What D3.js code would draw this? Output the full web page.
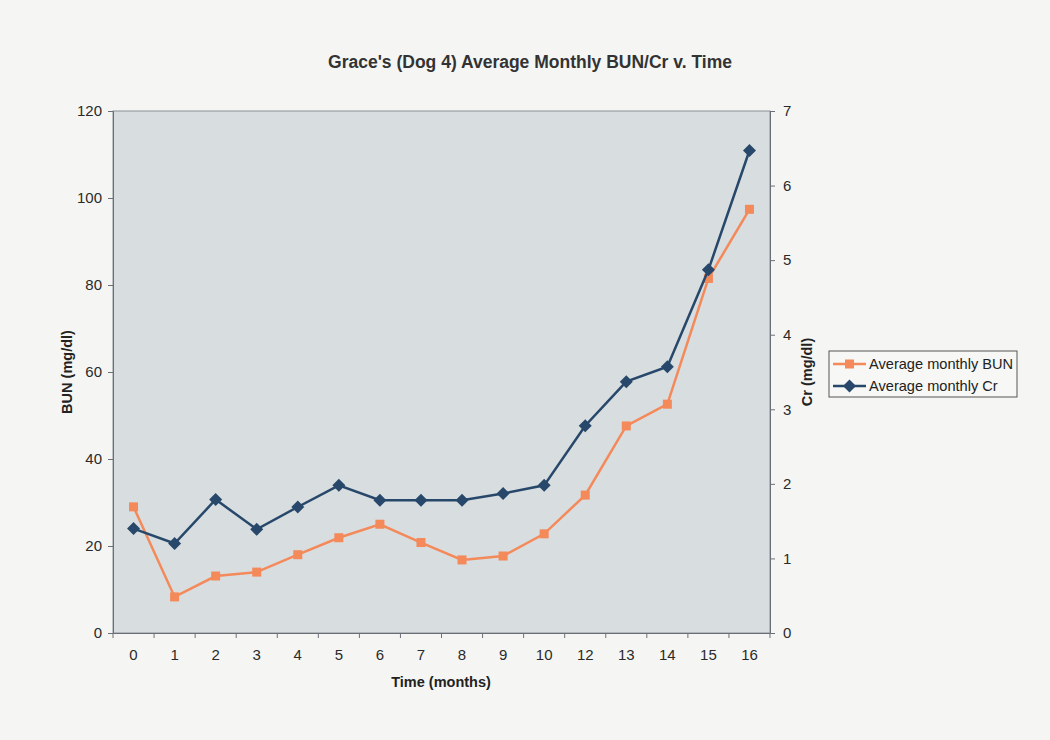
<!DOCTYPE html>
<html>
<head>
<meta charset="utf-8">
<script src="https://cdn.jsdelivr.net/npm/d3@7"></script>
<style>
  body { margin: 0; background: #f5f6f4; }
  svg { font-family: "Liberation Sans", Arial, sans-serif; }
</style>
</head>
<body>
<svg width="1050" height="740"></svg>
<script>
// months on the x axis (no month 11)
var months = ["0", "1", "2", "3", "4", "5", "6", "7", "8", "9", "10", "12", "13", "14", "15", "16"];
var bunValues = [29.0, 8.3, 13.1, 14.0, 18.0, 21.9, 25.0, 20.8, 16.8, 17.7, 22.8, 31.7, 47.6, 52.6, 81.5, 97.4];
var crValues = [1.40, 1.20, 1.79, 1.39, 1.69, 1.98, 1.78, 1.78, 1.78, 1.87, 1.98, 2.78, 3.37, 3.57, 4.87, 6.47];
var bunTicks = [0, 20, 40, 60, 80, 100, 120];
var crTicks = [0, 1, 2, 3, 4, 5, 6, 7];

var margin = {top: 111, right: 280, bottom: 107, left: 113},
    width = 1050, height = 740;

var svg = d3.select("svg");

var scX = d3.scaleBand()
    .domain(months)
    .range([margin.left, width - margin.right]);

var scBun = d3.scaleLinear()
    .domain([0, 120])
    .range([height - margin.bottom, margin.top]);

var scCr = d3.scaleLinear()
    .domain([0, 7])
    .range([height - margin.bottom, margin.top]);

// plot area
svg.append("rect")
    .attr("x", margin.left).attr("y", margin.top)
    .attr("width", width - margin.left - margin.right)
    .attr("height", height - margin.top - margin.bottom)
    .attr("fill", "#d8dde0").attr("stroke", "#8a8f94").attr("stroke-width", 1);

// axes
var yLeft = svg.append("g")
    .attr("transform", "translate(" + margin.left + ",0)")
    .call(d3.axisLeft(scBun).tickValues(bunTicks).tickSize(5).tickPadding(6));

var yRight = svg.append("g")
    .attr("transform", "translate(" + (width - margin.right) + ",0)")
    .call(d3.axisRight(scCr).tickValues(crTicks).tickFormat(d3.format("d")).tickSize(5).tickPadding(8));

var xAxis = svg.append("g")
    .attr("transform", "translate(0," + (height - margin.bottom) + ")")
    .call(d3.axisBottom(scX).tickSize(0).tickPadding(16));

// x tick marks sit between the categories
xAxis.selectAll(".sep")
    .data(months).enter()
    .append("line").attr("class", "sep")
    .attr("x1", d => scX(d)).attr("x2", d => scX(d))
    .attr("y1", 0).attr("y2", 5)
    .attr("stroke", "#6d6f78");
xAxis.append("line")
    .attr("x1", width - margin.right).attr("x2", width - margin.right)
    .attr("y1", 0).attr("y2", 5).attr("stroke", "#6d6f78");

[yLeft, yRight, xAxis].forEach(function(g) {
    g.select(".domain").attr("stroke", "#6d6f78");
    g.selectAll(".tick line").attr("stroke", "#6d6f78");
    g.selectAll("text").attr("font-size", 15).attr("fill", "#2a2a2a")
        .attr("font-family", "Liberation Sans, Arial, sans-serif");
});

// lines and markers
var bunLine = d3.line()
    .x((d, i) => scX(months[i]) + scX.bandwidth() / 2)
    .y(d => scBun(d));

var crLine = d3.line()
    .x((d, i) => scX(months[i]) + scX.bandwidth() / 2)
    .y(d => scCr(d));

var orange = "#f4895a", navy = "#27486a";

svg.append("path")
    .attr("fill", "none").attr("stroke", orange).attr("stroke-width", 2.5)
    .attr("d", bunLine(bunValues));

svg.append("g").attr("fill", orange)
    .selectAll("rect")
    .data(bunValues).enter()
    .append("rect")
    .attr("width", 9).attr("height", 9)
    .attr("x", (d, i) => scX(months[i]) + scX.bandwidth() / 2 - 4.5)
    .attr("y", d => scBun(d) - 4.5);

svg.append("path")
    .attr("fill", "none").attr("stroke", navy).attr("stroke-width", 2.5)
    .attr("d", crLine(crValues));

svg.append("g").attr("fill", navy)
    .selectAll("path")
    .data(crValues).enter()
    .append("path")
    .attr("d", "M0,-6.5L6.5,0L0,6.5L-6.5,0Z")
    .attr("transform", (d, i) => "translate(" + (scX(months[i]) + scX.bandwidth() / 2) + "," + scCr(d) + ")");

// titles
svg.append("text")
    .attr("x", 530).attr("y", 68)
    .attr("text-anchor", "middle").attr("font-size", 17.5).attr("font-weight", "bold")
    .attr("fill", "#333")
    .text("Grace's (Dog 4) Average Monthly BUN/Cr v. Time");

svg.append("text")
    .attr("x", 441).attr("y", 687)
    .attr("text-anchor", "middle").attr("font-size", 14.5).attr("font-weight", "bold")
    .attr("fill", "#222")
    .text("Time (months)");

svg.append("text")
    .attr("transform", "translate(72,372) rotate(-90)")
    .attr("text-anchor", "middle").attr("font-size", 14.5).attr("font-weight", "bold")
    .attr("fill", "#222")
    .text("BUN (mg/dl)");

svg.append("text")
    .attr("transform", "translate(812,372) rotate(-90)")
    .attr("text-anchor", "middle").attr("font-size", 14.5).attr("font-weight", "bold")
    .attr("fill", "#222")
    .text("Cr (mg/dl)");

// legend
var legend = svg.append("g").attr("transform", "translate(829,351)");
legend.append("rect")
    .attr("width", 188).attr("height", 46)
    .attr("fill", "#f7f7f5").attr("stroke", "#555").attr("stroke-width", 1);

var legendItems = [
    {label: "Average monthly BUN", color: orange, shape: "square"},
    {label: "Average monthly Cr", color: navy, shape: "diamond"}
];

var item = legend.selectAll(".item")
    .data(legendItems).enter()
    .append("g").attr("class", "item")
    .attr("transform", (d, i) => "translate(0," + (13 + i * 22) + ")");

item.append("line")
    .attr("x1", 4).attr("x2", 37)
    .attr("stroke", d => d.color).attr("stroke-width", 2.5);

item.append("path")
    .attr("fill", d => d.color)
    .attr("transform", "translate(20.5,0)")
    .attr("d", d => d.shape === "square" ? "M-4.5,-4.5H4.5V4.5H-4.5Z" : "M0,-6.5L6.5,0L0,6.5L-6.5,0Z");

item.append("text")
    .attr("x", 40).attr("y", 5)
    .attr("font-size", 14.6).attr("fill", "#222")
    .text(d => d.label);
</script>
</body>
</html>
